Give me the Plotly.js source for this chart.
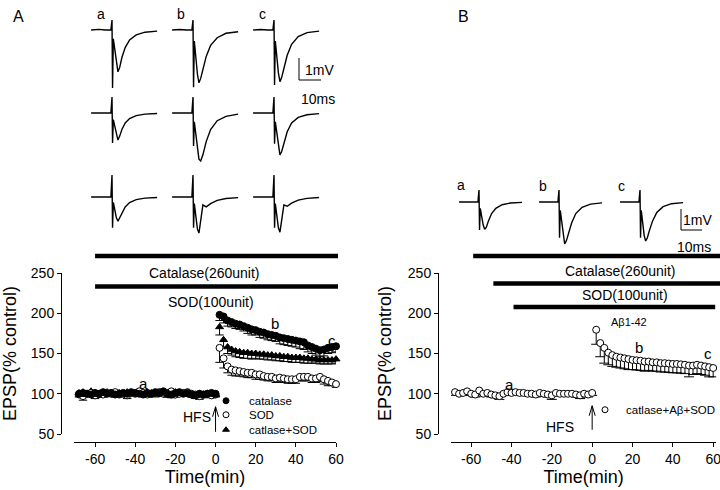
<!DOCTYPE html>
<html><head><meta charset="utf-8">
<script src="https://cdn.plot.ly/plotly-3.0.1.min.js"></script>
<style>html,body{margin:0;padding:0;background:#fff}#chart{width:720px;height:490px}</style>
</head><body><div id="chart"></div>
<script>
// ================= DATA =================
const baseTime = [-68,-66,-64,-62,-60,-58,-56,-54,-52,-50,-48,-46,-44,-42,-40,-38,-36,-34,-32,-30,-28,-26,-24,-22,-20,-18,-16,-14,-12,-10,-8,-6,-4,-2,0];
const postTime = [2,4,6,8,10,12,14,16,18,20,22,24,26,28,30,32,34,36,38,40,42,44,46,48,50,52,54,56,58,60];

// Panel A
const catBase    = [100,101,100,99,101,100,102,100,101,99,100,101,100,102,101,100,99,101,100,102,101,103,100,99,101,102,100,101,99,98,100,99,100,101,100];
const catBaseErr = [3,2,3,2,3,2,3,2,2,3,2,3,2,3,2,3,2,2,3,2,3,2,3,2,3,2,2,3,2,3,2,3,2,2,3];
const sodBase    = [99,97,100,101,98,100,99,101,100,102,99,100,98,101,100,103,101,99,100,101,102,100,101,103,99,100,101,102,100,99,97,99,100,98,99];
const sodBaseErr = [3,5,3,2,4,3,3,2,3,2,3,2,4,2,3,2,3,3,2,3,2,3,2,3,3,2,3,2,3,3,4,3,2,3,3];
const triBase    = [101,102,100,103,101,99,100,102,101,100,101,99,102,100,99,101,100,102,101,99,100,101,98,100,102,101,99,100,98,97,100,98,99,100,99];
const triBaseErr = [2,3,2,3,2,3,2,2,3,2,3,2,3,2,2,3,2,3,2,3,2,3,2,5,2,3,2,3,2,3,2,3,2,3,2];

const catPost    = [198,196,191,189,187,186,184,182,180,179,177,176,174,173,172,170,169,168,167,166,165,164,160,158,156,154,155,157,158,159];
const catPostErr = [7,8,7,6,6,6,6,7,7,6,7,7,7,7,7,8,8,8,8,8,9,9,8,8,8,8,8,7,7,7];
const sodPost    = [157,144,134,130,129,128,127,126,126,124,124,122,121,121,119,120,119,118,118,118,121,121,121,119,119,121,118,116,114,112];
const sodPostErr = [18,12,8,7,7,6,6,6,6,6,6,5,5,5,5,5,5,5,5,5,5,5,5,5,5,6,6,6,4,4];
const triPost    = [183,167,158,155,153,152,151,151,150,150,149,149,148,148,147,147,146,146,145,145,145,144,144,143,143,142,142,142,142,143];
const triPostErr = [10,9,8,7,7,7,7,7,7,6,6,6,6,6,6,6,6,6,6,6,6,6,6,5,5,5,5,5,5,5];

// Panel B
const bBase    = [102,100,101,103,100,99,104,100,101,99,98,97,100,102,101,102,101,101,100,100,99,101,100,99,98,101,100,100,100,100,99,98,100,99,101];
const bBaseErr = [4,2,3,3,2,3,5,3,4,3,3,4,2,3,3,2,3,3,2,3,3,4,2,3,5,3,2,3,3,2,3,4,2,3,3];
const bPost    = [179.5,163,157,151,148,146,145,144,143,142,141.5,141,140,140,139,139,138,138,137.5,137,137,136.5,136,135,135,136,135,134,133,132];
const bPostErr = [18,17,19,15,14,13,13,13,13,12,12,12,12,11,11,11,11,11,11,11,11,11,11,14,11,11,11,11,12,11];

// Drug application periods (min)
const drugA = [{name:'Catalase(260unit)', start:-60, end:61}, {name:'SOD(100unit)', start:-60, end:61}];
const drugB = [{name:'Catalase(260unit)', start:-59, end:63.5}, {name:'SOD(100unit)', start:-49, end:63.5}, {name:'A\u03b21-42', start:-39, end:61}];
const hfsTime = 0;

// Axis ticks
const xTickVals = [-60,-40,-20,0,20,40,60];
const xTickText = ['-60','-40','-20','0','20','40','60'];
const yTickVals = [50,100,150,200,250];
const yTickText = ['50','100','150','200','250'];

// Sample EPSP waveforms (time in ms relative to stimulus, amplitude in mV)
const waveT = [-9.5,-6,-3,-0.5,0,0.25,0.6,1.2,2.0,2.7,3.5,4.5,6,8,11,15,20.5];
const wavesA = [
  [ // row 1: catalase  a, b, c
    [0,0.03,0,0,0.45,-2.64,-0.4,-0.9,-1.6,-1.9,-1.7,-1.25,-0.8,-0.45,-0.22,-0.1,-0.05],
    [0,0.02,0,0,0.45,-2.6,-0.5,-1.2,-2.0,-2.4,-2.2,-1.8,-1.2,-0.7,-0.35,-0.15,-0.08],
    [0,0.02,0,0,0.45,-2.5,-0.5,-1.2,-1.95,-2.35,-2.15,-1.75,-1.15,-0.65,-0.3,-0.12,-0.05]
  ],
  [ // row 2: SOD
    [0,0,0,0,0.73,-1.36,-0.3,-0.6,-1.05,-1.23,-1.05,-0.75,-0.45,-0.25,-0.12,-0.05,-0.02],
    [0,0,0,0,0.73,-1.5,-0.4,-0.9,-1.7,-2.1,-2.18,-1.9,-1.3,-0.75,-0.35,-0.15,-0.05],
    [0,0,0,0,0.73,-1.4,-0.4,-0.9,-1.6,-1.9,-1.75,-1.35,-0.85,-0.45,-0.2,-0.08,-0.03]
  ],
  [ // row 3: catalase+SOD
    [0,0,0,0,1.0,-1.4,-0.25,-0.55,-0.95,-1.1,-0.95,-0.7,-0.45,-0.25,-0.12,-0.05,-0.02],
    [0,0,0,0,1.0,-1.4,-0.3,-0.8,-1.45,-1.64,-1.1,-0.36,-0.45,-0.3,-0.15,-0.07,-0.03],
    [0,0,0,0,1.0,-1.4,-0.3,-0.8,-1.4,-1.6,-1.1,-0.36,-0.42,-0.28,-0.14,-0.06,-0.02]
  ]
];
const wavesB = [
  [0,0,0,0,0.57,-1.33,-0.3,-0.65,-1.1,-1.3,-1.2,-0.9,-0.55,-0.3,-0.13,-0.05,-0.02],
  [0,0,0,0,0.57,-1.7,-0.4,-0.9,-1.7,-2.0,-1.85,-1.5,-1.0,-0.55,-0.25,-0.1,-0.04],
  [0,0,0,0,0.57,-1.7,-0.4,-0.9,-1.6,-1.86,-1.7,-1.35,-0.9,-0.5,-0.22,-0.08,-0.03]
];
const scaleMV = 1, scaleMS = 10;

// ================= LAYOUT HELPERS =================
const W = 720, H = 490;
const FONT = '"Liberation Sans", Arial, Helvetica, sans-serif';
const px = x => x / W;
const py = y => 1 - y / H;

// main axes geometry (pixels)
const A_x0 = 74, A_x1 = 336, A_r0 = -70.5, A_r1 = 60;
const B_x0 = 451, B_x1 = 716.2, B_r0 = -70, B_r1 = 61.5;
const pxA = (A_x1 - A_x0) / (A_r1 - A_r0);
const pxB = (B_x1 - B_x0) / (B_r1 - B_r0);
const yTop = 273, yBot = 434, xAxisY = 442;
const yScale = (yBot - yTop) / 200; // px per EPSP unit
const epspAt = p => 100 + (394 - p) / yScale;
const minA = p => A_r0 + (p - A_x0) / pxA;
const minB = p => B_r0 + (p - B_x0) / pxB;

function errSegs(xs, ys, es, cw) {
  const X = [], Y = [];
  xs.forEach((x, i) => {
    const lo = ys[i] - es[i];
    X.push(x, x, null, x - cw, x + cw, null);
    Y.push(ys[i], lo, null, lo, lo, null);
  });
  return {X, Y};
}

const traces = [];
const blk = '#000';
const mk = (sym, fill, size) => ({symbol: sym, size: size, color: fill, line: {color: blk, width: 1}});

function addSeries(xa, ya, xs, ys, es, marker, capMin) {
  const e = errSegs(xs, ys, es, capMin);
  traces.push({type:'scatter', mode:'lines', x:e.X, y:e.Y, xaxis:xa, yaxis:ya, line:{color:blk, width:1}, hoverinfo:'skip'});
  traces.push({type:'scatter', mode:'markers', x:xs, y:ys, xaxis:xa, yaxis:ya, marker:marker, cliponaxis:false, hoverinfo:'skip'});
}

// ---- Panel A series
const allT = baseTime.concat(postTime);
const capA = 4.2 / pxA, capB = 5 / pxB;
addSeries('x','y', allT, triBase.concat(triPost), triBaseErr.concat(triPostErr), mk('triangle-up', blk, 7), capA);
addSeries('x','y', allT, sodBase.concat(sodPost), sodBaseErr.concat(sodPostErr), mk('circle', '#fff', 7), capA);
addSeries('x','y', allT, catBase.concat(catPost), catBaseErr.concat(catPostErr), mk('circle', blk, 7), capA);
// ---- Panel B series
addSeries('x2','y2', allT, bBase.concat(bPost), bBaseErr.concat(bPostErr), mk('circle', '#fff', 7), capB);

// ---- HFS arrows
function arrow(xa, ya, t, yLow, yHigh, halfW, headH) {
  traces.push({type:'scatter', mode:'lines', xaxis:xa, yaxis:ya, hoverinfo:'skip',
    x:[t, t, null, t - halfW, t, t + halfW], y:[yLow, yHigh, null, yHigh - headH, yHigh, yHigh - headH],
    line:{color:blk, width:1}});
}
arrow('x','y', hfsTime, epspAt(432), epspAt(407), 3 / pxA, 10 / yScale);
arrow('x2','y2', hfsTime, epspAt(430), epspAt(406), 3 / pxB, 10 / yScale);

// ---- Manual legends
const legA = [
  {label:'catalase', m: mk('circle', blk, 6), y: 401},
  {label:'SOD', m: mk('circle', '#fff', 6), y: 415},
  {label:'catlase+SOD', m: mk('triangle-up', blk, 6), y: 430}
];
legA.forEach(l => traces.push({type:'scatter', mode:'markers', xaxis:'x', yaxis:'y', x:[minA(226)], y:[epspAt(l.y)], marker:l.m, cliponaxis:false, hoverinfo:'skip'}));
traces.push({type:'scatter', mode:'markers', xaxis:'x2', yaxis:'y2', x:[minB(605)], y:[epspAt(410)], marker:mk('circle','#fff',6), cliponaxis:false, hoverinfo:'skip'});

// ---- Drug bars (own subplots so they may sit above the EPSP axis)
const barRowsA = [256, 286.5];
const barRowsB = [256, 283.5, 307];
drugA.forEach((d, i) => traces.push({type:'scatter', mode:'lines', xaxis:'x3', yaxis:'y3', hoverinfo:'skip',
  x:[d.start, d.end], y:[320 - barRowsA[i], 320 - barRowsA[i]], line:{color:blk, width:4.5}}));
drugB.forEach((d, i) => traces.push({type:'scatter', mode:'lines', xaxis:'x4', yaxis:'y4', hoverinfo:'skip',
  x:[d.start, d.end], y:[320 - barRowsB[i], 320 - barRowsB[i]], line:{color:blk, width:4.5}}));

// ---- Waveform insets
const msA = 2.2, mvA = 22, insA_x0 = 80, insA_x1 = 340, insA_h = 250;
const colA = [112, 193, 274], rowA = [30, 113, 197];
wavesA.forEach((row, r) => row.forEach((w, c) => {
  const ox = (colA[c] - insA_x0) / msA, oy = -rowA[r] / mvA;
  traces.push({type:'scatter', mode:'lines', xaxis:'x5', yaxis:'y5', hoverinfo:'skip',
    x: waveT.map(t => ox + t), y: w.map(v => oy + v), line:{color:blk, width:1.4}});
}));
const msB = 2.1, mvB = 21, insB_x0 = 440, insB_y0 = 170, insB_y1 = 250;
const colB = [479, 559, 640], rowB = 202;
wavesB.forEach((w, c) => {
  const ox = (colB[c] - insB_x0) / msB, oy = -(rowB - insB_y0) / mvB;
  traces.push({type:'scatter', mode:'lines', xaxis:'x6', yaxis:'y6', hoverinfo:'skip',
    x: waveT.map(t => ox + t), y: w.map(v => oy + v), line:{color:blk, width:1.4}});
});
// scale bars
(function(){
  const cx = (299 - insA_x0) / msA, cy = -80 / mvA;
  traces.push({type:'scatter', mode:'lines', xaxis:'x5', yaxis:'y5', hoverinfo:'skip',
    x:[cx, cx, cx + scaleMS], y:[cy + scaleMV, cy, cy], line:{color:blk, width:1}});
  const bx = (681 - insB_x0) / msB, by = -(230 - insB_y0) / mvB;
  traces.push({type:'scatter', mode:'lines', xaxis:'x6', yaxis:'y6', hoverinfo:'skip',
    x:[bx, bx, bx + scaleMS], y:[by + scaleMV, by, by], line:{color:blk, width:1}});
})();

// ================= LAYOUT =================
const axStyle = {showline:true, linecolor:blk, linewidth:1, ticks:'outside', ticklen:4, tickwidth:1, tickcolor:blk,
  showgrid:false, zeroline:false, fixedrange:true, tickfont:{size:14, family:FONT, color:blk}, tickmode:'array',
  ticklabeloverflow:'allow'};
const hidden = {visible:false, fixedrange:true, showgrid:false, zeroline:false};

function ann(text, x, y, size, opts) {
  return Object.assign({text:text, xref:'paper', yref:'paper', x:px(x), y:py(y), showarrow:false,
    xanchor:'center', yanchor:'middle', font:{size:size, family:FONT, color:blk}}, opts || {});
}

const annotations = [
  ann('A', 18, 17, 16), ann('B', 463, 17, 16),
  ann('a', 101, 14, 14), ann('b', 181, 14, 14), ann('c', 262, 14, 14),
  ann('a', 461, 185, 14), ann('b', 543, 186, 14), ann('c', 621, 186, 14),
  ann('1mV', 319, 70, 14), ann('10ms', 318, 99, 14),
  ann('1mV', 697, 220, 14), ann('10ms', 694, 247, 14),
  ann(drugA[0].name, 204, 273, 14), ann(drugA[1].name, 211, 302, 14),
  ann(drugB[0].name, 620, 271, 14), ann(drugB[1].name, 625, 295, 14), ann(drugB[2].name, 629, 322, 11),
  ann('a', 143, 383, 15), ann('b', 275, 323, 15), ann('c', 332, 340, 15),
  ann('a', 509, 384, 15), ann('b', 639, 347, 15), ann('c', 708, 353, 15),
  ann('HFS', 197, 417, 14), ann('HFS', 560, 427, 14),
  ann('catalase', 247, 401, 11.5, {xanchor:'left'}),
  ann('SOD', 247, 415, 11.5, {xanchor:'left'}),
  ann('catlase+SOD', 247, 430, 11.5, {xanchor:'left'}),
  ann('catlase+A\u03b2+SOD', 624, 410, 11.5, {xanchor:'left'})
];

const layout = {
  width: W, height: H, margin:{l:0, r:0, t:0, b:0}, paper_bgcolor:'#fff', plot_bgcolor:'rgba(0,0,0,0)',
  font:{family:FONT, color:blk, size:14}, showlegend:false,
  xaxis: Object.assign({}, axStyle, {domain:[px(A_x0), px(A_x1)], range:[A_r0, A_r1], anchor:'free', position:py(xAxisY),
    tickvals:xTickVals, ticktext:xTickText, title:{text:'Time(min)', font:{size:18, family:FONT, color:blk}, standoff:0}}),
  yaxis: Object.assign({}, axStyle, {domain:[py(yBot), py(yTop)], range:[50, 250], anchor:'free', position:px(61),
    tickvals:yTickVals, ticktext:yTickText, title:{text:'EPSP(% control)', font:{size:18, family:FONT, color:blk}, standoff:11}}),
  xaxis2: Object.assign({}, axStyle, {domain:[px(B_x0), px(B_x1)], range:[B_r0, B_r1], anchor:'free', position:py(xAxisY),
    tickvals:xTickVals, ticktext:xTickText, title:{text:'Time(min)', font:{size:18, family:FONT, color:blk}, standoff:0}}),
  yaxis2: Object.assign({}, axStyle, {domain:[py(yBot), py(yTop)], range:[50, 250], anchor:'free', position:px(438),
    tickvals:yTickVals, ticktext:yTickText, title:{text:'EPSP(% control)', font:{size:18, family:FONT, color:blk}, standoff:10}}),
  xaxis3: Object.assign({}, hidden, {domain:[px(A_x0), px(345)], range:[A_r0, minA(345)], anchor:'y3'}),
  yaxis3: Object.assign({}, hidden, {domain:[py(320), py(240)], range:[0, 80], anchor:'x3'}),
  xaxis4: Object.assign({}, hidden, {domain:[px(B_x0), 1], range:[B_r0, minB(720)], anchor:'y4'}),
  yaxis4: Object.assign({}, hidden, {domain:[py(320), py(240)], range:[0, 80], anchor:'x4'}),
  xaxis5: Object.assign({}, hidden, {domain:[px(insA_x0), px(insA_x1)], range:[0, (insA_x1 - insA_x0) / msA], anchor:'y5'}),
  yaxis5: Object.assign({}, hidden, {domain:[py(insA_h), 1], range:[-insA_h / mvA, 0], anchor:'x5'}),
  xaxis6: Object.assign({}, hidden, {domain:[px(insB_x0), 1], range:[0, (W - insB_x0) / msB], anchor:'y6'}),
  yaxis6: Object.assign({}, hidden, {domain:[py(insB_y1), py(insB_y0)], range:[-(insB_y1 - insB_y0) / mvB, 0], anchor:'x6'}),
  annotations: annotations
};

Plotly.newPlot('chart', traces, layout, {staticPlot:true, displayModeBar:false});
</script>
</body></html>
